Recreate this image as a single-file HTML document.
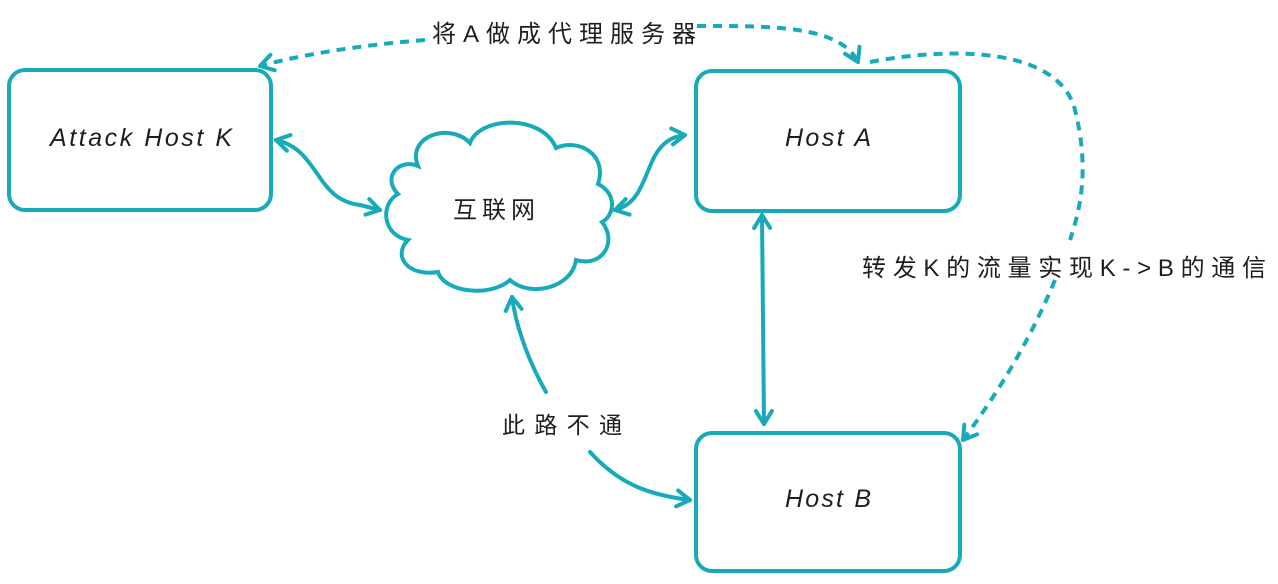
<!DOCTYPE html>
<html><head><meta charset="utf-8"><style>
html,body{margin:0;padding:0;background:#fff;}
svg{display:block;}
text{font-family:"Liberation Sans","Noto Sans CJK SC",sans-serif;fill:#1e1e1e;}
</style></head><body>
<svg width="1278" height="584" viewBox="0 0 1278 584" xmlns="http://www.w3.org/2000/svg">
<defs>
<marker id="a" viewBox="0 0 20 20" refX="16" refY="10" markerWidth="20" markerHeight="20" orient="auto-start-reverse" markerUnits="userSpaceOnUse" style="overflow:visible">
<path d="M3,2 L16,10 L3,18" fill="none" stroke="#17aab9" stroke-width="4" stroke-linecap="round" stroke-linejoin="round"/>
</marker>
</defs>
<g fill="none" stroke="#17aab9" stroke-width="4" stroke-linecap="round">
<rect x="9" y="70" width="262" height="140" rx="16"/>
<rect x="696" y="71" width="264" height="140" rx="16"/>
<rect x="696" y="433" width="264" height="138" rx="16"/>
<path d="M418,166 C406,136 450,122 470,143 C480,116 542,114 556,148 C578,138 608,154 598,184 C618,194 614,216 602,222 C618,242 602,268 576,260 C572,288 530,298 510,280 C490,298 444,292 438,272 C408,277 392,256 408,240 C382,235 380,204 398,194 C382,178 398,158 418,166 Z"/>
<path d="M276,140 C320,150 315,200 360,205 L380,210" marker-start="url(#a)" marker-end="url(#a)"/>
<path d="M615,210 C655,200 640,140 685,135" marker-start="url(#a)" marker-end="url(#a)"/>
<path d="M762,215 L764,424" marker-start="url(#a)" marker-end="url(#a)"/>
<path d="M546,392 C525,355 515,320 512,297" marker-end="url(#a)"/>
<path d="M590,452 C620,485 650,495 690,500" marker-end="url(#a)"/>
</g>
<g fill="none" stroke="#17aab9" stroke-width="4" stroke-dasharray="9 7" stroke-linecap="butt">
<path d="M425,40 C360,45 300,55 260,66" marker-end="url(#a)"/>
<path d="M697,26 C770,26 840,25 858,62" marker-end="url(#a)"/>
<path d="M870,62 C960,45 1060,50 1075,110 C1090,170 1080,210 1070,240"/>
<path d="M1055,280 C1030,340 1000,390 963,440" marker-end="url(#a)"/>
</g>
<text x="432" y="42" font-size="24" textLength="264" lengthAdjust="spacing">将A做成代理服务器</text>
<text x="50" y="146" font-size="25" font-style="italic" textLength="182" lengthAdjust="spacing">Attack Host K</text>
<text x="785" y="146" font-size="25" font-style="italic" textLength="86" lengthAdjust="spacing">Host A</text>
<text x="785" y="507" font-size="25" font-style="italic" textLength="86" lengthAdjust="spacing">Host B</text>
<text x="453" y="218" font-size="24" textLength="82" lengthAdjust="spacing">互联网</text>
<text x="502" y="433" font-size="23" textLength="120" lengthAdjust="spacing">此路不通</text>
<text x="862" y="276" font-size="24" textLength="404" lengthAdjust="spacing">转发K的流量实现K-&gt;B的通信</text>
</svg>
</body></html>
